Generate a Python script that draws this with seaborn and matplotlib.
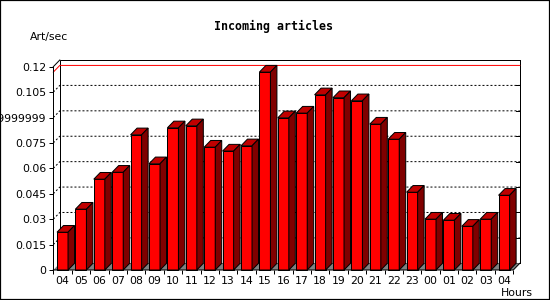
import numpy as np
import pandas as pd
import matplotlib
matplotlib.use("Agg")
import matplotlib.pyplot as plt
from matplotlib.patches import Polygon, Rectangle
import seaborn as sns

# ---- data ----
hours = ["04", "05", "06", "07", "08", "09", "10", "11", "12", "13", "14", "15",
         "16", "17", "18", "19", "20", "21", "22", "23", "00", "01", "02", "03", "04"]
art_per_sec = [0.0223, 0.0359, 0.0536, 0.0577, 0.0798, 0.0627, 0.0839, 0.0851,
               0.0725, 0.0702, 0.0733, 0.1168, 0.0898, 0.0926, 0.1034, 0.1017,
               0.0999, 0.0861, 0.0772, 0.0459, 0.0300, 0.0294, 0.0258, 0.0300, 0.0441]
y_ticks = [0, 0.015, 0.03, 0.045, 0.06, 0.075, 0.09, 0.105, 0.12]
y_tick_labels = ["0", "0.015", "0.03", "0.045", "0.06", "0.075",
                 "0.0899999999999999", "0.105", "0.12"]
title = "Incoming articles"
y_title = "Art/sec"
x_title = "Hours"

# ---- style ----
plt.rcParams['font.family'] = ['DejaVu Sans']
FRONT = "#FF0000"
TOP = "#C00000"
SIDE = "#800000"
FLOOR = "#808080"
LW = 0.72  # 1 px

W, H = 550, 300
fig = plt.figure(figsize=(5.5, 3.0), dpi=100)
fig.patch.set_facecolor("white")

ax_l, ax_r, ax_t, ax_b = 53.3, 513.3, 66.7, 270.0
ax = fig.add_axes([ax_l / W, 1 - ax_b / H, (ax_r - ax_l) / W, (ax_b - ax_t) / H])

df = pd.DataFrame({"slot": np.arange(len(hours)), "value": art_per_sec})
n = len(hours)
ymax = 0.12
xlim = (-0.5, n - 0.5)
ax.set_xlim(*xlim)
ax.set_ylim(0, ymax)

# 3D depth in data units
dx = 6.5 * (xlim[1] - xlim[0]) / (ax_r - ax_l)
dy = 6.7 * ymax / (ax_b - ax_t)

for s in ax.spines.values():
    s.set_visible(False)
ax.patch.set_visible(False)

# back wall
ax.add_patch(Rectangle((xlim[0] + dx, dy), xlim[1] - xlim[0], ymax, facecolor="white",
                       edgecolor="black", lw=LW, clip_on=False, zorder=0.5))
# grid lines (diagonal + back wall)
for t in y_ticks[1:-1]:
    ax.plot([xlim[0], xlim[0] + dx, xlim[1] + dx], [t, t + dy, t + dy], color="black",
            lw=LW, ls=(0, (2, 2)), clip_on=False, zorder=0.8)
for t in y_ticks:
    ax.plot([xlim[1] + dx - 4 * dx / 6.5, xlim[1] + dx], [t + dy, t + dy], color="black",
            lw=LW, clip_on=False, zorder=0.8)
# max line
vmax = max(art_per_sec)
ax.plot([xlim[0], xlim[0] + dx, xlim[1] + dx], [vmax, vmax + dy, vmax + dy], color="red",
        lw=LW, clip_on=False, zorder=0.9)
# floor
ax.add_patch(Polygon([(xlim[0], 0), (xlim[1], 0), (xlim[1] + dx, dy), (xlim[0] + dx, dy)],
                     closed=True, facecolor=FLOOR, edgecolor="none", clip_on=False, zorder=1))
# front frame
ax.plot([xlim[0], xlim[0]], [0, ymax], color="black", lw=LW, clip_on=False, zorder=5)
ax.plot([xlim[0], xlim[0] + dx], [ymax, ymax + dy], color="black", lw=LW, clip_on=False, zorder=5)
ax.plot([xlim[0], xlim[1], xlim[1] + dx], [0, 0, dy], color="black", lw=LW, clip_on=False, zorder=5)

# bars
sns.barplot(data=df, x="slot", y="value", color=FRONT, saturation=1, width=0.6,
            edgecolor="black", linewidth=LW, ax=ax, zorder=3)
for p in list(ax.patches):
    if not isinstance(p, Rectangle) or p.get_facecolor()[:3] != matplotlib.colors.to_rgb(FRONT):
        continue
    x0, w, h = p.get_x(), p.get_width(), p.get_height()
    if w > 1:
        continue
    p.set_clip_on(False)
    top = Polygon([(x0, h), (x0 + w, h), (x0 + w + dx, h + dy), (x0 + dx, h + dy)], closed=True,
                  facecolor=TOP, edgecolor="black", lw=LW, clip_on=False, zorder=3)
    side = Polygon([(x0 + w, 0), (x0 + w, h), (x0 + w + dx, h + dy), (x0 + w + dx, dy)], closed=True,
                   facecolor=SIDE, edgecolor="black", lw=LW, clip_on=False, zorder=3)
    ax.add_patch(top)
    ax.add_patch(side)

ax.set_xlim(*xlim)
ax.set_ylim(0, ymax)

# ticks
ax.set_yticks(y_ticks)
ax.set_yticklabels(y_tick_labels)
ax.set_xticks(np.arange(n))
ax.set_xticklabels(hours)
ax.set_xticks(np.arange(n + 1) - 0.5, minor=True)
ax.tick_params(axis="x", which="major", length=0, pad=4.2, labelsize=7.8, colors="black")
ax.tick_params(axis="x", which="minor", length=2.9, width=LW, direction="out", color="black")
ax.tick_params(axis="y", which="major", length=2.9, width=LW, direction="out", pad=2.2,
               labelsize=7.8, colors="black")
ax.set_xlabel("")
ax.set_ylabel("")

# texts
fig.text(273.8 / W, 1 - 26.7 / H, title, ha="center", va="center", fontsize=8.4,
         fontweight="bold", family=["DejaVu Sans Mono"])
fig.text(30 / W, 1 - 36.7 / H, y_title, ha="left", va="center", fontsize=7.8)
fig.text(533 / W, 1 - 292.7 / H, x_title, ha="right", va="center", fontsize=7.8)

# outer border
fig.patches.append(Rectangle((0, 0), 1, 1, transform=fig.transFigure, fill=False,
                             edgecolor="black", lw=1.6, zorder=10))

fig.savefig("out.png", dpi=100)
